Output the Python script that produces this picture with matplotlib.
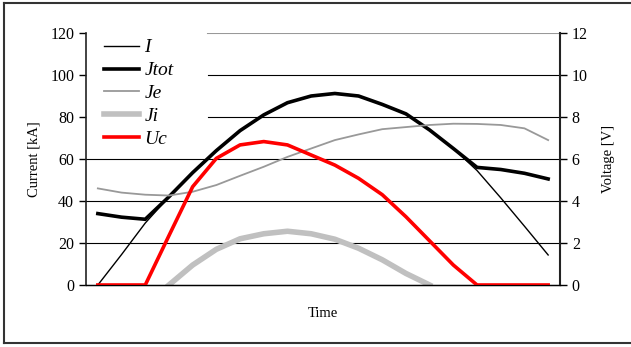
import numpy as np
import matplotlib.pyplot as plt
from matplotlib.lines import Line2D

plt.rcParams.update({"font.family": "Liberation Serif", "font.size": 11})

# 20 time steps
steps = np.arange(20)
I = [0, 14.5, 29.5, 42, 53.5, 64, 73.5, 81, 86.8, 90, 91.2, 90, 86, 81.5, 73.8, 65, 54.5, 41.5, 28, 14.3]
Jtot = [34, 32.3, 31.3, 42, 53.5, 64, 73.5, 81, 86.8, 90, 91.2, 90, 86, 81.5, 73.8, 65, 56, 55, 53.2, 50.5]
Je = [46, 44, 43, 42.6, 44.4, 47.6, 52, 56.3, 61, 65, 69, 71.7, 74.2, 75.2, 76.2, 76.8, 76.7, 76.2, 74.6, 69]
Ji = [np.nan, np.nan, np.nan, 0, 9.5, 17, 22, 24.4, 25.6, 24.4, 21.8, 17.5, 12, 5.5, 0,
      np.nan, np.nan, np.nan, np.nan, np.nan]
Uc = [0, 0, 0, 2.35, 4.68, 6.03, 6.67, 6.83, 6.67, 6.19, 5.71, 5.08, 4.3, 3.25, 2.1, 0.95, 0, 0, 0, 0]

fig = plt.figure(figsize=(6.31, 3.47), dpi=100)
ax = fig.add_axes([86 / 631, 1 - 285 / 347, 474 / 631, 252 / 347])
ax2 = ax.twinx()

# outer frame (open on the right)
frame_kw = dict(transform=fig.transFigure, color="#333333", lw=1.5)
fig.add_artist(Line2D([4 / 631, 4 / 631], [1 - 343 / 347, 1 - 3 / 347], **frame_kw))
fig.add_artist(Line2D([4 / 631, 1], [1 - 3 / 347, 1 - 3 / 347], **frame_kw))
fig.add_artist(Line2D([4 / 631, 1], [1 - 343 / 347, 1 - 343 / 347], **frame_kw))

ax.set_xlim(-0.5, 19.5)
ax.set_ylim(0, 120)
ax2.set_ylim(0, 12)
ax.set_yticks(range(0, 121, 20))
ax2.set_yticks(range(0, 13, 2))
ax.set_xticks([])

# gridlines; the upper ones are hidden behind the legend area
legend_edge = 122 / 474
for y in range(20, 101, 20):
    ax.axhline(y, xmin=legend_edge if y >= 80 else 0, color="black", lw=0.8, zorder=0)
ax.axhline(120, xmin=legend_edge, color="#999999", lw=1.5, zorder=0)

l1, = ax.plot(steps, I, color="black", lw=1.0, label="I")
l2, = ax.plot(steps, Jtot, color="black", lw=2.6, label="Jtot")
l3, = ax.plot(steps, Je, color="#999999", lw=1.3, label="Je")
l4, = ax.plot(steps, Ji, color="#c0c0c0", lw=4.0, label="Ji")
l5, = ax2.plot(steps, Uc, color="#ff0000", lw=2.6, label="Uc")

for a in (ax, ax2):
    a.spines["top"].set_visible(False)
    a.tick_params(direction="out", length=5, width=1, labelsize=11.5)
ax.spines["right"].set_visible(False)
ax2.spines["left"].set_visible(False)
ax2.spines["right"].set_color("#222222")
ax2.spines["right"].set_linewidth(1.5)
ax.spines["left"].set_color("#222222")
ax.spines["left"].set_linewidth(1.2)
ax.spines["bottom"].set_linewidth(1.0)

ax.set_ylabel("Current [kA]", fontsize=10.5, labelpad=7)
ax2.set_ylabel("Voltage [V]", fontsize=10.5, labelpad=10)
ax.set_xlabel("Time", fontsize=10.5, labelpad=16)

leg = ax2.legend(handles=[l1, l2, l3, l4, l5], loc="upper left",
                 bbox_to_anchor=(0.0, 1.05), frameon=False, handlelength=1.75,
                 labelspacing=0.27, borderpad=0.45, handletextpad=0.3,
                 prop={"family": "Liberation Serif", "style": "italic", "size": 14})
leg.set_zorder(5)

plt.savefig("out.png", dpi=100)
